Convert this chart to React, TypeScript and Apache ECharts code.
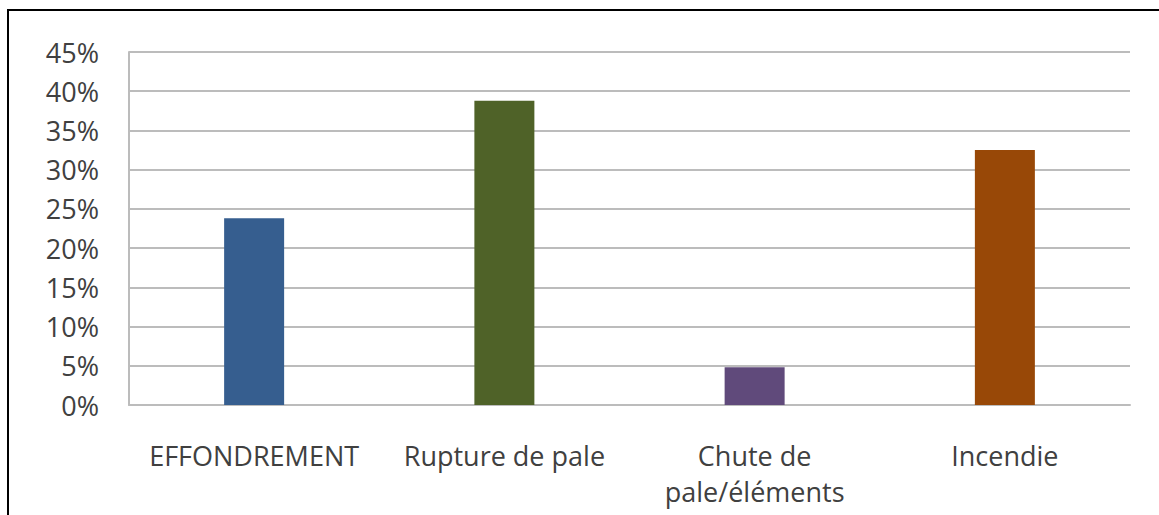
import React, { useEffect, useRef } from "react";
import * as echarts from "echarts";

const categories = ["EFFONDREMENT", "Rupture de pale", "Chute de\npale/éléments", "Incendie"];
const values = [23.8, 38.8, 4.8, 32.5];
const barColors = ["#365e8f", "#4f6228", "#604a7b", "#984807"];
const yTicks = { min: 0, max: 45, interval: 5 };

export default function App() {
  const ref = useRef<HTMLDivElement>(null);
  useEffect(() => {
    if (!ref.current) return;
    const chart = echarts.init(ref.current, undefined, { renderer: "svg" });
    const font = "'Open Sans', 'Noto Sans', sans-serif";
    chart.setOption({
      animation: false,
      backgroundColor: "#ffffff",
      grid: { left: 129, right: 29, top: 52, bottom: 110, containLabel: false },
      xAxis: {
        type: "category",
        data: categories,
        axisLine: { lineStyle: { color: "#bcbcbc", width: 2 } },
        axisTick: { show: false },
        axisLabel: {
          interval: 0,
          color: "#404040",
          fontFamily: font,
          fontSize: 27,
          lineHeight: 36,
          margin: 32,
        },
      },
      yAxis: {
        type: "value",
        min: yTicks.min,
        max: yTicks.max,
        interval: yTicks.interval,
        axisLine: { show: true, lineStyle: { color: "#bcbcbc", width: 2 } },
        axisTick: { show: false },
        splitLine: { lineStyle: { color: "#bcbcbc", width: 2 } },
        axisLabel: {
          formatter: "{value}%",
          color: "#404040",
          fontFamily: font,
          fontSize: 27,
          margin: 30,
        },
      },
      series: [
        {
          type: "bar",
          barWidth: 60,
          data: values.map((v, i) => ({ value: v, itemStyle: { color: barColors[i] } })),
        },
      ],
      graphic: [
        { type: "line", shape: { x1: 8, y1: 9, x2: 8, y2: 515 }, style: { stroke: "#000", lineWidth: 2 } },
        { type: "line", shape: { x1: 7, y1: 10, x2: 1159, y2: 10 }, style: { stroke: "#000", lineWidth: 2 } },
      ],
    });
    return () => chart.dispose();
  }, []);
  return (
    <div
      ref={ref}
      style={{ position: "absolute", left: 0, top: 0, width: 1159, height: 515 }}
    />
  );
}
